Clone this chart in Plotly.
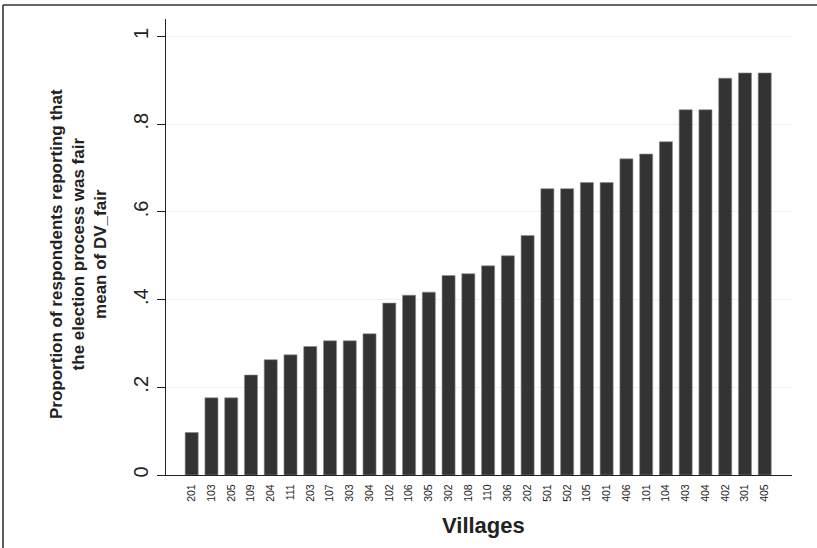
import plotly.graph_objects as go

villages = ["201", "103", "205", "109", "204", "111", "203", "107", "303", "304",
            "102", "106", "305", "302", "108", "110", "306", "202", "501", "502",
            "105", "401", "406", "101", "104", "403", "404", "402", "301", "405"]
mean_fair = [0.097, 0.176, 0.176, 0.228, 0.263, 0.274, 0.293, 0.306, 0.306, 0.322,
             0.392, 0.410, 0.417, 0.455, 0.459, 0.477, 0.500, 0.546, 0.653, 0.653,
             0.667, 0.667, 0.721, 0.732, 0.760, 0.833, 0.833, 0.905, 0.917, 0.917]
y_tickvals = [0, 0.2, 0.4, 0.6, 0.8, 1.0]
y_ticktext = ["0", ".2", ".4", ".6", ".8", "1"]

W, H = 817, 548
L, R, T, B = 166, 25, 19, 73
pw, ph = W - L - R, H - T - B

def px2x(px):
    return (px - L) / pw

def px2y(py):
    return (H - B - py) / ph

FONT = "Liberation Sans, Arial, Helvetica, sans-serif"
DARK = "#222222"

fig = go.Figure()
fig.add_trace(go.Bar(
    x=villages, y=mean_fair,
    marker=dict(color="#333333", line=dict(color="#8c8c8c", width=0.6)),
    width=0.66,
))

fig.update_layout(
    width=W, height=H,
    margin=dict(l=L, r=R, t=T, b=B, pad=0),
    paper_bgcolor="white", plot_bgcolor="white",
    showlegend=False,
    font=dict(family=FONT, color=DARK),
    xaxis=dict(
        type="category", range=[-1.3, 30.38],
        showline=True, linecolor=DARK, linewidth=1.2,
        showgrid=False, ticks="", tickangle=-90,
        tickfont=dict(size=10.5, color=DARK, family=FONT),
        ticklabelstandoff=4,
        zeroline=False,
    ),
    yaxis=dict(
        range=[0, 1.04],
        showline=True, linecolor=DARK, linewidth=1.2,
        showgrid=True, gridcolor="#efefef", gridwidth=1,
        ticks="outside", ticklen=8, tickcolor=DARK, tickwidth=1.2,
        tickvals=y_tickvals, ticktext=y_ticktext,
        tickangle=-90, tickfont=dict(size=20, color=DARK, family=FONT),
        ticklabelstandoff=1,
        zeroline=False,
    ),
    annotations=[
        dict(text="<b>Proportion of respondents reporting that<br>the election process was fair<br>mean of DV_fair</b>",
             xref="paper", yref="paper", x=px2x(78), y=px2y(254),
             xanchor="center", yanchor="middle", textangle=-90, showarrow=False,
             font=dict(size=17, color=DARK, family=FONT), align="center"),
        dict(text="<b>Villages</b>", xref="paper", yref="paper",
             x=px2x(483), y=px2y(525), xanchor="center", yanchor="middle",
             showarrow=False, font=dict(size=22, color=DARK, family=FONT)),
    ],
    shapes=[
        dict(type="line", xref="paper", yref="paper", x0=px2x(3), x1=px2x(W + 2),
             y0=px2y(5), y1=px2y(5), line=dict(color="#333333", width=1.6)),
        dict(type="line", xref="paper", yref="paper", x0=px2x(3), x1=px2x(3),
             y0=px2y(5), y1=px2y(H + 2), line=dict(color="#333333", width=1.6)),
    ],
)

fig.write_html("out.html",
               config={"displayModeBar": False},
               post_script="document.body.style.margin='0';document.body.style.overflow='hidden';")
